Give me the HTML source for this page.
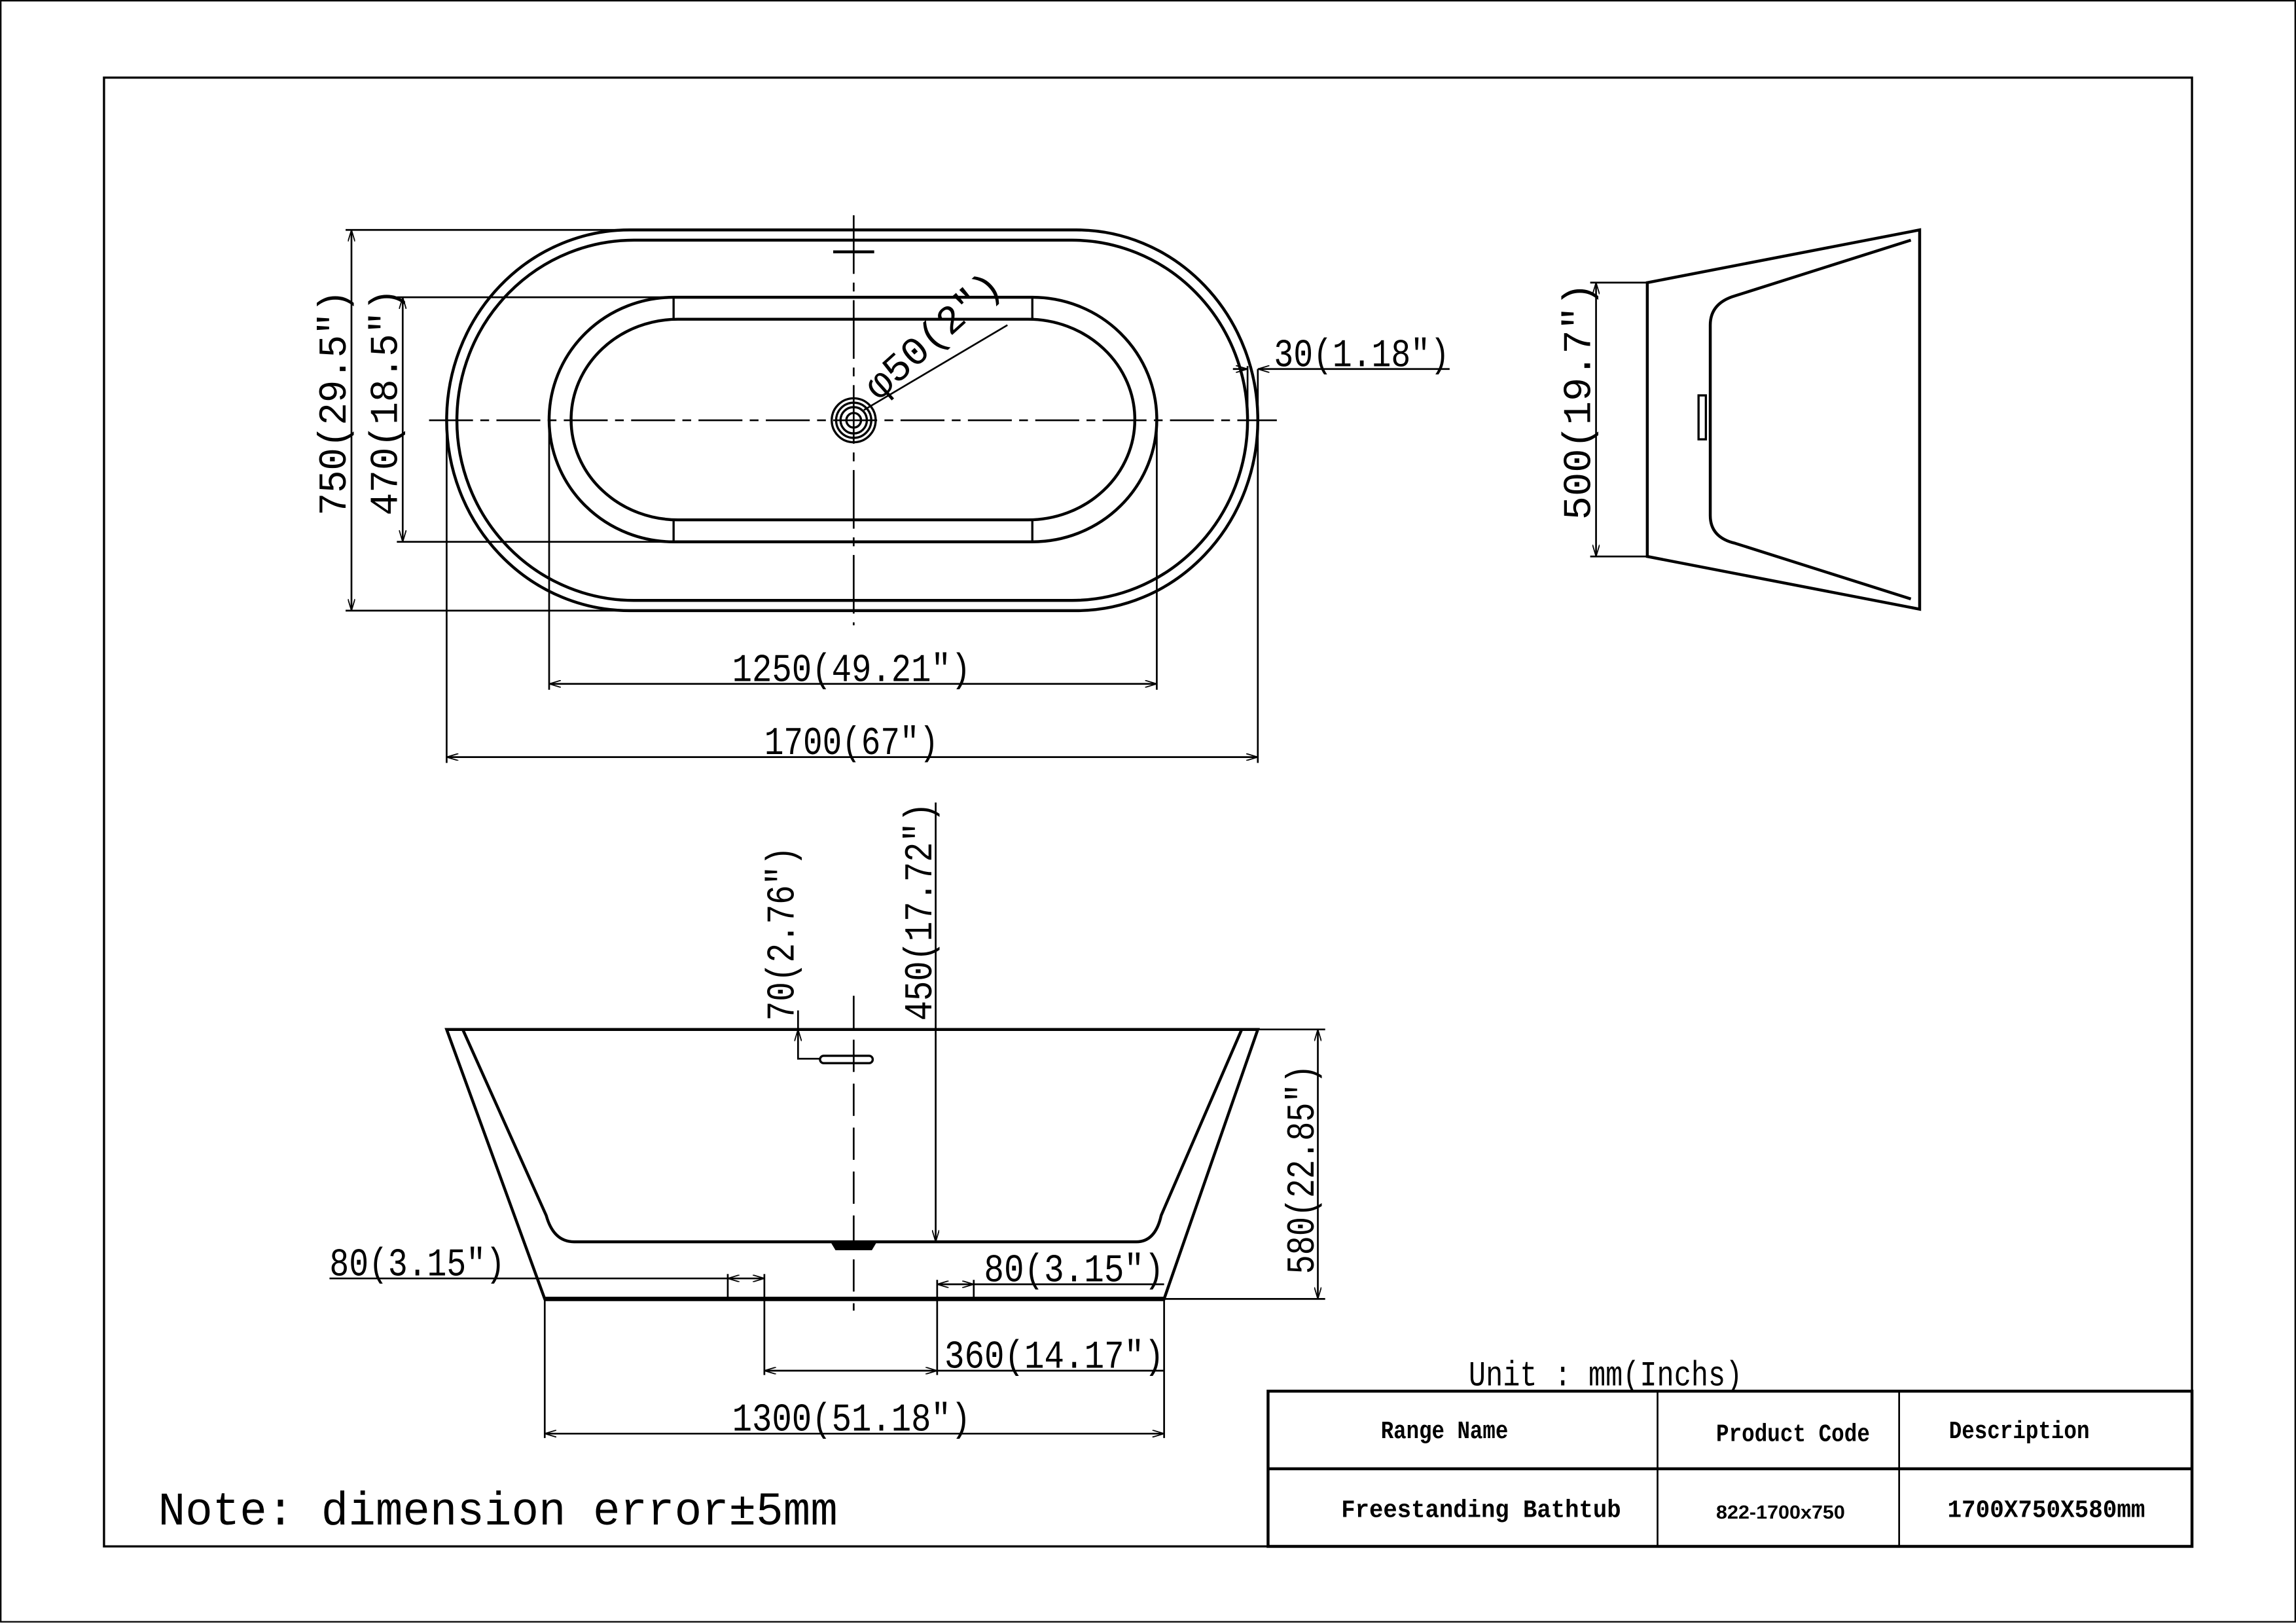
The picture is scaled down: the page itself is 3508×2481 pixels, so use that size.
<!DOCTYPE html>
<html><head><meta charset="utf-8"><style>
html,body{margin:0;padding:0;background:#fff;}
svg{display:block;}
text{font-family:"Liberation Mono",monospace;fill:#000;}
.d{font-size:27px;}
.b{font-weight:bold;font-size:17px;}
</style></head><body>
<svg width="3508" height="2481" viewBox="0 0 1568 1109" xmlns="http://www.w3.org/2000/svg">
<defs>
<marker id="a" viewBox="0 0 10 6" refX="10" refY="3" markerWidth="8" markerHeight="5" orient="auto-start-reverse" markerUnits="userSpaceOnUse"><path d="M0,0 L10,3 L0,6" fill="none" stroke="#000" stroke-width="1"/></marker>
</defs>
<rect x="0.5" y="0.5" width="1567" height="1107" fill="#fff" stroke="#000" stroke-width="1"/>
<rect x="71" y="53" width="1426" height="1003" fill="none" stroke="#000" stroke-width="1.5"/>

<g fill="none" stroke="#000" stroke-width="1.5">
<path d="M430,157 H735 A124,130 0 0 1 735,417 H430 A125,130 0 0 1 430,157 Z" stroke-width="2"/>
<path d="M433,164 H732 A120,123 0 0 1 732,410 H433 A121,123 0 0 1 433,164 Z" stroke-width="2"/>
<path d="M460,203 H705 A85,83.5 0 0 1 705,370 H460 A85,83.5 0 0 1 460,203 Z" stroke-width="2"/>
<path d="M463,218 H702 A73,68.5 0 0 1 702,355 H463 A73,68.5 0 0 1 463,218 Z" stroke-width="2"/>
<line x1="460" y1="203" x2="460" y2="218"/><line x1="705" y1="203" x2="705" y2="218"/>
<line x1="460" y1="355" x2="460" y2="370"/><line x1="705" y1="355" x2="705" y2="370"/>
<circle cx="583" cy="287" r="15"/><circle cx="583" cy="287" r="12"/><circle cx="583" cy="287" r="9"/><circle cx="583" cy="287" r="5"/>
<line x1="293" y1="287" x2="872" y2="287" stroke-width="1.2" stroke-dasharray="30,5,6,5"/>
<line x1="583" y1="147" x2="583" y2="427" stroke-width="1.2" stroke-dasharray="40,6,6,6"/>
<line x1="569" y1="172" x2="597" y2="172" stroke-width="2"/>
<line x1="590" y1="280" x2="688" y2="222" stroke-width="1.2"/>
<line x1="236" y1="157" x2="430" y2="157" stroke-width="1.2"/>
<line x1="236" y1="417" x2="430" y2="417" stroke-width="1.2"/>
<line x1="240" y1="157" x2="240" y2="417" stroke-width="1.2" marker-start="url(#a)" marker-end="url(#a)"/>
<line x1="271" y1="203" x2="460" y2="203" stroke-width="1.2"/>
<line x1="271" y1="370" x2="460" y2="370" stroke-width="1.2"/>
<line x1="275" y1="203" x2="275" y2="370" stroke-width="1.2" marker-start="url(#a)" marker-end="url(#a)"/>
<line x1="375" y1="287" x2="375" y2="471" stroke-width="1.2"/>
<line x1="790" y1="287" x2="790" y2="471" stroke-width="1.2"/>
<line x1="375" y1="467" x2="790" y2="467" stroke-width="1.2" marker-start="url(#a)" marker-end="url(#a)"/>
<line x1="305" y1="287" x2="305" y2="521" stroke-width="1.2"/>
<line x1="859" y1="252" x2="859" y2="521" stroke-width="1.2"/>
<line x1="305" y1="517" x2="859" y2="517" stroke-width="1.2" marker-start="url(#a)" marker-end="url(#a)"/>
<line x1="852" y1="250" x2="852" y2="287" stroke-width="1.2"/>
<line x1="842" y1="252" x2="852" y2="252" stroke-width="1.2" marker-end="url(#a)"/>
<line x1="990" y1="252" x2="859" y2="252" stroke-width="1.2" marker-end="url(#a)"/>

<path d="M1125,193 L1311,157 L1311,416 L1125,380 Z" stroke-width="2"/>
<path d="M1305,164 L1185,202 Q1168,207 1168,222 L1168,352 Q1168,367 1185,371 L1305,409" stroke-width="2"/>
<rect x="1160" y="270" width="5" height="30" stroke-width="1.5"/>
<line x1="1086" y1="193" x2="1125" y2="193" stroke-width="1.2"/>
<line x1="1086" y1="380" x2="1125" y2="380" stroke-width="1.2"/>
<line x1="1090" y1="193" x2="1090" y2="380" stroke-width="1.2" marker-start="url(#a)" marker-end="url(#a)"/>

<path d="M305,703 L859,703 L795,887 L372,887 Z" stroke-width="2"/>
<line x1="372" y1="887" x2="795" y2="887" stroke-width="3"/>
<path d="M316,703 L373,830 Q378,848 392,848 L776,848 Q789,848 793,830 L848,703" stroke-width="2"/>
<path d="M568,848 L598,848 L595,853 L571,853 Z" stroke-width="1.5" fill="#000"/>
<rect x="560" y="721" width="36" height="5" rx="2.5" stroke-width="1.5"/>
<line x1="583" y1="680" x2="583" y2="895" stroke-width="1.2" stroke-dasharray="22,8"/>
<polyline points="545,690 545,723 560,723" stroke-width="1.2"/>
<line x1="545" y1="703" x2="545" y2="716" stroke-width="1" marker-start="url(#a)"/>
<line x1="639" y1="548" x2="639" y2="848" stroke-width="1.2" marker-end="url(#a)"/>
<line x1="859" y1="703" x2="905" y2="703" stroke-width="1.2"/>
<line x1="795" y1="887" x2="905" y2="887" stroke-width="1.2"/>
<line x1="900" y1="703" x2="900" y2="887" stroke-width="1.2" marker-start="url(#a)" marker-end="url(#a)"/>
<line x1="225" y1="873" x2="497" y2="873" stroke-width="1.2"/>
<line x1="497" y1="873" x2="522" y2="873" stroke-width="1.2" marker-start="url(#a)" marker-end="url(#a)"/>
<line x1="497" y1="870" x2="497" y2="887" stroke-width="1.2"/>
<line x1="522" y1="870" x2="522" y2="939" stroke-width="1.2"/>
<line x1="640" y1="877" x2="665" y2="877" stroke-width="1.2" marker-start="url(#a)" marker-end="url(#a)"/>
<line x1="665" y1="877" x2="795" y2="877" stroke-width="1.2"/>
<line x1="640" y1="874" x2="640" y2="939" stroke-width="1.2"/>
<line x1="665" y1="874" x2="665" y2="887" stroke-width="1.2"/>
<line x1="522" y1="936" x2="640" y2="936" stroke-width="1.2" marker-start="url(#a)" marker-end="url(#a)"/>
<line x1="640" y1="936" x2="795" y2="936" stroke-width="1.2"/>
<line x1="372" y1="887" x2="372" y2="982" stroke-width="1.2"/>
<line x1="795" y1="887" x2="795" y2="982" stroke-width="1.2"/>
<line x1="372" y1="979" x2="795" y2="979" stroke-width="1.2" marker-start="url(#a)" marker-end="url(#a)"/>

<rect x="866" y="950" width="631" height="106" stroke-width="2"/>
<line x1="866" y1="1003" x2="1497" y2="1003" stroke-width="2"/>
<line x1="1132" y1="950" x2="1132" y2="1056" stroke-width="1.2"/>
<line x1="1297" y1="950" x2="1297" y2="1056" stroke-width="1.2"/>
</g>

<g lengthAdjust="spacingAndGlyphs">
<text class="d" transform="translate(236,352) rotate(-90)" textLength="154" lengthAdjust="spacingAndGlyphs">750(29.5″)</text>
<text class="d" transform="translate(271,352) rotate(-90)" textLength="155" lengthAdjust="spacingAndGlyphs">470(18.5″)</text>
<text class="d" x="500" y="465" textLength="163" lengthAdjust="spacingAndGlyphs">1250(49.21″)</text>
<text class="d" x="522" y="515" textLength="119" lengthAdjust="spacingAndGlyphs">1700(67″)</text>
<text class="d" x="870" y="250" textLength="120" lengthAdjust="spacingAndGlyphs">30(1.18″)</text>
<text class="d" transform="translate(600,274) rotate(-42)" textLength="115" lengthAdjust="spacingAndGlyphs">φ50(2″)</text>
<text class="d" transform="translate(1086,355) rotate(-90)" textLength="162" lengthAdjust="spacingAndGlyphs">500(19.7″)</text>
<text class="d" transform="translate(542,697) rotate(-90)" textLength="119" lengthAdjust="spacingAndGlyphs">70(2.76″)</text>
<text class="d" transform="translate(636,697) rotate(-90)" textLength="149" lengthAdjust="spacingAndGlyphs">450(17.72″)</text>
<text class="d" transform="translate(897,870) rotate(-90)" textLength="143" lengthAdjust="spacingAndGlyphs">580(22.85″)</text>
<text class="d" x="225" y="871" textLength="120" lengthAdjust="spacingAndGlyphs">80(3.15″)</text>
<text class="d" x="672" y="875" textLength="123" lengthAdjust="spacingAndGlyphs">80(3.15″)</text>
<text class="d" x="645" y="934" textLength="150" lengthAdjust="spacingAndGlyphs">360(14.17″)</text>
<text class="d" x="500" y="977" textLength="163" lengthAdjust="spacingAndGlyphs">1300(51.18″)</text>
<text x="1003" y="946" font-size="24" textLength="187" lengthAdjust="spacingAndGlyphs">Unit : mm(Inchs)</text>
<text class="b" x="943" y="982" textLength="87" lengthAdjust="spacingAndGlyphs">Range Name</text>
<text class="b" x="1172" y="984" textLength="105" lengthAdjust="spacingAndGlyphs">Product Code</text>
<text class="b" x="1331" y="982" textLength="96" lengthAdjust="spacingAndGlyphs">Description</text>
<text class="b" x="916" y="1036" textLength="191" lengthAdjust="spacingAndGlyphs">Freestanding Bathtub</text>
<text x="1172" y="1037" font-size="13" font-weight="bold" style="font-family:'Liberation Sans',sans-serif" textLength="88" lengthAdjust="spacingAndGlyphs">822-1700x750</text>
<text class="b" x="1330" y="1036" textLength="135" lengthAdjust="spacingAndGlyphs">1700X750X580mm</text>
<text x="108" y="1041" font-size="32" textLength="464" lengthAdjust="spacingAndGlyphs">Note: dimension error±5mm</text>
</g>
</svg>
</body></html>
